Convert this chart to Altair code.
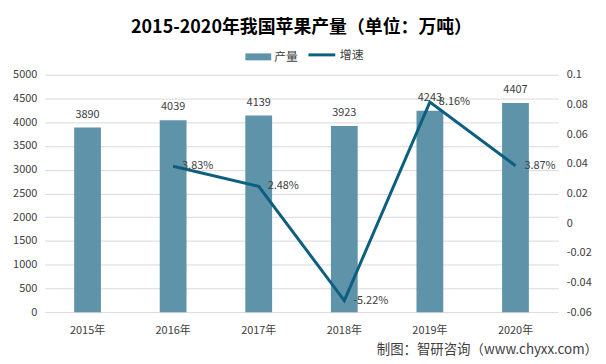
import altair as alt
import pandas as pd

years = ["2015年", "2016年", "2017年", "2018年", "2019年", "2020年"]
production = [3890, 4039, 4139, 3923, 4243, 4407]
growth = [None, 0.0383, 0.0248, -0.0522, 0.0816, 0.0387]
growth_labels = ["", "3.83%", "2.48%", "-5.22%", "8.16%", "3.87%"]
left_ticks = [0, 500, 1000, 1500, 2000, 2500, 3000, 3500, 4000, 4500, 5000]
right_ticks = [-0.06, -0.04, -0.02, 0, 0.02, 0.04, 0.06, 0.08, 0.1]
title_text = "2015-2020年我国苹果产量（单位：万吨）"
source_text = "制图：智研咨询（www.chyxx.com）"

BAR_COLOR = "#5e93a9"
LINE_COLOR = "#0c5f7e"
FONT = "Noto Sans CJK SC"
TXT = "#404040"

df = pd.DataFrame({
    "year": years,
    "production": production,
    "growth": growth,
    "glabel": growth_labels,
    "k1": ["产量"] * 6,
    "k2": ["增速"] * 6,
})
df_line = df.dropna(subset=["growth"])

x = alt.X("year:N", sort=years, title=None,
          scale=alt.Scale(paddingInner=0.687, paddingOuter=0.3435),
          axis=alt.Axis(labelAngle=0, ticks=False, domain=False, labelPadding=13,
                        labelFontSize=11, labelColor=TXT, labelFont=FONT))

y_left = alt.Y("production:Q", title=None,
               scale=alt.Scale(domain=[0, 5000], nice=False, zero=True),
               axis=alt.Axis(values=left_ticks, format="d", grid=True, gridColor="#d9d9d9",
                             domain=False, ticks=False, labelPadding=8, labelFontSize=11,
                             labelColor=TXT, labelFont=FONT))

y_right = alt.Y("growth:Q", title=None,
                scale=alt.Scale(domain=[-0.06, 0.1], nice=False, zero=False),
                axis=alt.Axis(orient="right", values=right_ticks, grid=False, domain=False,
                              ticks=False, labelPadding=8, labelFontSize=11, labelColor=TXT,
                              labelFont=FONT,
                              labelExpr="datum.value < 0 ? '-' + format(-datum.value, '~g') : format(datum.value, '~g')"))

bars = alt.Chart(df).mark_bar().encode(
    x=x, y=y_left,
    color=alt.Color("k1:N", scale=alt.Scale(domain=["产量"], range=[BAR_COLOR]),
                    legend=alt.Legend(title=None, orient="none", legendX=202, legendY=-31,
                                      symbolType="M-1,-0.27H1V0.27H-1Z", symbolSize=676,
                                      symbolStrokeWidth=0, labelFontSize=12, labelFont=FONT,
                                      labelColor=TXT, labelOffset=3)),
)
bar_text = alt.Chart(df).mark_text(baseline="middle", dy=-13, fontSize=11, font=FONT, color=TXT).encode(
    x=x, y=y_left, text=alt.Text("production:Q", format="d"))

line = alt.Chart(df_line).mark_line(strokeWidth=3).encode(
    x=x, y=y_right,
    stroke=alt.Stroke("k2:N", scale=alt.Scale(domain=["增速"], range=[LINE_COLOR]),
                      legend=alt.Legend(title=None, orient="none", legendX=264, legendY=-35,
                                        symbolType="stroke", symbolSize=729, symbolStrokeWidth=3,
                                        labelFontSize=12, labelFont=FONT, labelColor=TXT,
                                        labelOffset=3)),
)
line_text = alt.Chart(df_line).mark_text(align="left", baseline="middle", dx=9, fontSize=11,
                                         font=FONT, color=TXT).encode(
    x=x, y=y_right, text="glabel:N")

source = alt.Chart(pd.DataFrame({"t": [source_text]})).mark_text(
    align="right", baseline="middle", fontSize=13.5, font=FONT, color=TXT).encode(
    text="t:N", x=alt.value(557), y=alt.value(277))

left = alt.layer(bars, bar_text)
right = alt.layer(line, line_text)

chart = alt.layer(left, right, source).resolve_scale(y="independent", color="independent").properties(
    width=517, height=239,
    autosize=alt.AutoSizeParams(type="none"),
    padding={"left": 37, "top": 66, "right": 40, "bottom": 48},
    title=alt.TitleParams(title_text, fontSize=18, font=FONT, fontWeight="bold",
                          anchor="middle", color="#000000", offset=3),
).configure_view(stroke=None)

chart.save("out.html", embed_options={"renderer": "svg", "actions": False})
